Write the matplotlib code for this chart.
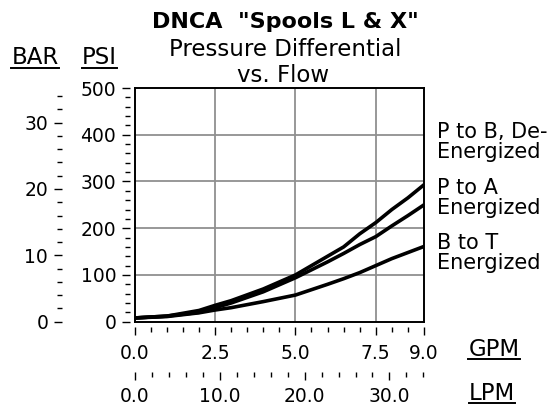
import matplotlib
matplotlib.use("Agg")
import matplotlib.pyplot as plt
from matplotlib.lines import Line2D
from matplotlib.ticker import FixedLocator, MultipleLocator, FormatStrFormatter
import numpy as np

# flow in GPM, pressure drop in PSI
flow_gpm = [0.0, 1.0, 2.0, 2.5, 3.0, 4.0, 5.0, 6.0, 6.5, 7.0, 7.5, 8.0, 8.5, 9.0]
p_to_b = [8, 12, 24, 35, 45, 70, 100, 140, 160, 188, 212, 240, 265, 293]
p_to_a = [8, 12, 20, 30, 40, 64, 94, 128, 146, 165, 182, 205, 227, 250]
b_to_t = [8, 11, 19, 25, 30, 43, 57, 80, 92, 105, 120, 135, 148, 161]

labels = [["P to B, De-", "Energized"],
          ["P to A", "Energized"],
          ["B to T", "Energized"]]

PSI_PER_BAR = 14.2
LPM_PER_GPM = 3.785
FS = 13.5
W, H = 555, 412

plt.rcParams["font.family"] = "DejaVu Sans"

fig = plt.figure(figsize=(W / 100, H / 100), dpi=100)
L, R, T, B = 134.7, 424, 88, 321.7
ax = fig.add_axes([L / W, 1 - B / H, (R - L) / W, (B - T) / H])

for y in [p_to_b, p_to_a, b_to_t]:
    ax.plot(flow_gpm, y, color="black", lw=2.6, zorder=3)

ax.set_xlim(0, 9)
ax.set_ylim(0, 500)
ax.set_xticks([2.5, 5.0, 7.5])
ax.set_yticks([100, 200, 300, 400])
ax.grid(True, color="#909090", lw=1.3)
ax.tick_params(length=0, labelbottom=False, labelleft=False)
for s in ax.spines.values():
    s.set_linewidth(1.4)

def style(sec, side):
    sec.spines[side].set_visible(False)
    sec.tick_params(which="major", length=6, width=1, labelsize=FS, color="black")
    sec.tick_params(which="minor", length=3.5, width=1, color="black")

# PSI axis
psi = ax.secondary_yaxis(-0.016)
psi.yaxis.set_major_locator(MultipleLocator(100))
psi.yaxis.set_minor_locator(MultipleLocator(20))
style(psi, "left")
psi.tick_params(which="major", pad=4)

# BAR axis
bar = ax.secondary_yaxis(-0.251, functions=(lambda p: p / PSI_PER_BAR, lambda b: b * PSI_PER_BAR))
bar.yaxis.set_major_locator(FixedLocator([0, 10, 20, 30]))
bar.yaxis.set_minor_locator(FixedLocator(np.arange(0, 35, 2)))
style(bar, "left")
bar.tick_params(which="major", pad=4)

# GPM axis
gpm = ax.secondary_xaxis(-0.0227)
gpm.xaxis.set_major_locator(FixedLocator([0, 2.5, 5.0, 7.5, 9.0]))
gpm.xaxis.set_minor_locator(MultipleLocator(0.5))
gpm.xaxis.set_major_formatter(FormatStrFormatter("%.1f"))
style(gpm, "bottom")
gpm.tick_params(which="major", pad=6)

# LPM axis
lpm = ax.secondary_xaxis(-0.214, functions=(lambda g: g * LPM_PER_GPM, lambda l: l / LPM_PER_GPM))
lpm.xaxis.set_major_locator(FixedLocator([0, 10, 20, 30]))
lpm.xaxis.set_minor_locator(FixedLocator(np.arange(0, 35, 2)))
lpm.xaxis.set_major_formatter(FormatStrFormatter("%.1f"))
style(lpm, "bottom")
lpm.tick_params(which="major", pad=5)

def px(x, y):
    return x / W, 1 - y / H

# titles
fig.text(*px(285, 21.5), 'DNCA  "Spools L & X"', ha="center", va="center",
         fontsize=16, fontweight="bold")
fig.text(*px(285, 49), "Pressure Differential", ha="center", va="center", fontsize=16.5)
fig.text(*px(283, 76), "vs. Flow", ha="center", va="center", fontsize=16.5)

# curve labels on the right
ys = [(131.7, 151.7), (188, 208), (243, 263)]
for (l1, l2), (y1, y2) in zip(labels, ys):
    fig.text(*px(437, y1), l1, ha="left", va="center", fontsize=15)
    fig.text(*px(437, y2), l2, ha="left", va="center", fontsize=15)

# underlined unit labels
units = [("BAR", 35, 55.5), ("PSI", 99.5, 55.5), ("GPM", 494, 347.5), ("LPM", 492, 391.5)]
utexts = [fig.text(*px(x, y), s, ha="center", va="center_baseline", fontsize=16.5)
          for s, x, y in units]
under_y = [67.7, 67.7, 359.3, 402.7]
fig.canvas.draw()
for t, uy in zip(utexts, under_y):
    bb = t.get_window_extent()
    yl = H - uy
    fig.add_artist(Line2D([bb.x0 / W, bb.x1 / W], [yl / H, yl / H],
                          transform=fig.transFigure, color="black", lw=1.4))

fig.savefig("out.png", dpi=100)
